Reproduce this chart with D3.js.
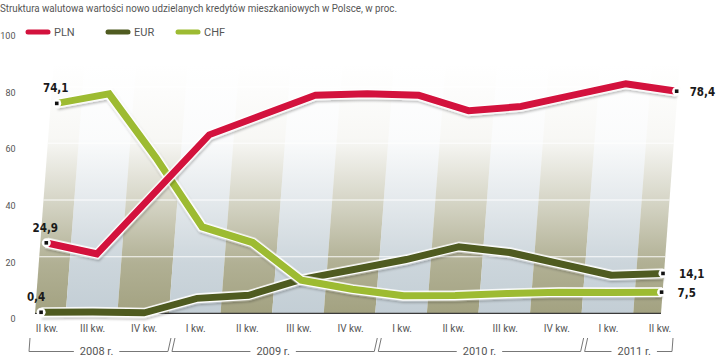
<!DOCTYPE html>
<html>
<head>
<meta charset="utf-8">
<script src="https://cdn.jsdelivr.net/npm/d3@7.9.0/dist/d3.min.js"></script>
<style>
  body { margin: 0; background: #fff; }
  svg { display: block; }
  .lbl { font-family: Roboto, "Noto Sans", sans-serif; fill: #555; }
  .val { font-family: "DejaVu Sans Condensed", "DejaVu Sans", sans-serif; font-weight: bold; fill: #1a1a1a; font-size: 11.5px; }
</style>
</head>
<body>
<svg id="chart" width="720" height="359"></svg>
<script>
// data (shares in %)
const quarters = ["II kw.", "III kw.", "IV kw.", "I kw.", "II kw.", "III kw.", "IV kw.",
                  "I kw.", "II kw.", "III kw.", "IV kw.", "I kw.", "II kw."];
const yearLabels = ["2008 r.", "2009 r.", "2010 r.", "2011 r."];
const yearQuarterCounts = [3, 4, 4, 2];
const pln = [24.9, 21, 42, 63, 70, 77, 77.5, 77, 71.5, 73, 77, 81, 78.4];
const eur = [0.4, 0.5, 0.2, 5.3, 6.4, 12, 15.5, 19, 23.5, 21.5, 17.5, 13.5, 14.1];
const chf = [74.1, 77.5, 55, 30.5, 25, 11.7, 8.5, 6.2, 6.3, 7, 7.5, 7.4, 7.5];
const yTicks = [0, 20, 40, 60, 80, 100];

const series = [
  { name: "EUR", values: eur, color: "#4f5b20" },
  { name: "CHF", values: chf, color: "#9dbb32" },
  { name: "PLN", values: pln, color: "#d3123d" }
];
const legendOrder = ["PLN", "EUR", "CHF"];

const svg = d3.select("#chart");
const x = d3.scaleLinear().domain([0, quarters.length - 1]).range([41, 660]);
const y = d3.scaleLinear().domain([0, 100]).range([313.4, 30]);
const y0 = y(0);
const k = 0.075; // slant of the chart body
const skewX = (i, v) => x(i) + k * (y0 - y(v));

// gradients for the stripes
const defs = svg.append("defs");
function stripeGrad(id, color) {
  const g = defs.append("linearGradient").attr("id", id)
    .attr("gradientUnits", "userSpaceOnUse")
    .attr("x1", 0).attr("x2", 0).attr("y1", y(88)).attr("y2", y0);
  [[0, 0], [0.3, 0.08], [0.55, 0.45], [0.8, 0.85], [1, 1]].forEach(([o, op]) =>
    g.append("stop").attr("offset", o).attr("stop-color", color).attr("stop-opacity", op));
}
stripeGrad("olive", "#a3a281");
stripeGrad("blue", "#c3ced5");
const shadow = defs.append("filter").attr("id", "sh").attr("x", "-5%").attr("y", "-20%")
  .attr("width", "110%").attr("height", "140%");
shadow.append("feDropShadow").attr("dx", 1).attr("dy", 2).attr("stdDeviation", 1.3)
  .attr("flood-color", "#000").attr("flood-opacity", 0.25);

// title
svg.append("text").attr("class", "lbl").attr("x", 0).attr("y", 12)
  .attr("font-size", 11).attr("fill", "#666")
  .attr("textLength", 397).attr("lengthAdjust", "spacingAndGlyphs")
  .text("Struktura walutowa wartości nowo udzielanych kredytów mieszkaniowych w Polsce, w proc.");

// legend
const legX = [28, 108, 178];
legendOrder.forEach((n, i) => {
  const s = series.find(d => d.name === n);
  svg.append("line").attr("x1", legX[i]).attr("x2", legX[i] + 20)
    .attr("y1", 32).attr("y2", 32)
    .attr("stroke", s.color).attr("stroke-width", 5).attr("stroke-linecap", "round");
  svg.append("text").attr("class", "lbl").attr("x", legX[i] + 26).attr("y", 36)
    .attr("font-size", 11).text(n);
});

// y tick labels
svg.append("g").selectAll("text").data(yTicks).join("text")
  .attr("class", "lbl").attr("x", 15.5).attr("y", d => y(d) + 9)
  .attr("text-anchor", "end").attr("font-size", 9).attr("fill", "#777")
  .text(d => d);

// chart body, slanted
const body = svg.append("g")
  .attr("transform", `translate(0,${y0}) skewX(${-Math.atan(k) * 180 / Math.PI}) translate(0,${-y0})`);

const step = x(1) - x(0);
const left = x(0) - 6, right = x(quarters.length - 1) + 1;
quarters.forEach((q, i) => {
  const a = i === 0 ? left : x(i) - step / 2 - 1;
  const b = i === quarters.length - 1 ? right : x(i) + step / 2 - 1;
  body.append("rect").attr("x", a).attr("width", b - a)
    .attr("y", y(88)).attr("height", y0 - y(88))
    .attr("fill", i % 2 === 0 ? "url(#olive)" : "url(#blue)");
});
body.append("g").selectAll("line").data([20, 40, 60, 80]).join("line")
  .attr("x1", left).attr("x2", right).attr("y1", d => y(d)).attr("y2", d => y(d))
  .attr("stroke", "#fff").attr("stroke-width", 1).attr("opacity", 0.9);
body.append("line").attr("x1", left).attr("x2", right).attr("y1", y0).attr("y2", y0)
  .attr("stroke", "#3a3a3a").attr("stroke-width", 1.2);

const line = d3.line().x((d, i) => x(i)).y(d => y(d));
series.forEach(s => {
  body.append("path").attr("d", line(s.values)).attr("fill", "none")
    .attr("stroke", "#fff").attr("stroke-width", 10).attr("stroke-linejoin", "miter")
    .attr("filter", "url(#sh)");
  body.append("path").attr("d", line(s.values)).attr("fill", "none")
    .attr("stroke", s.color).attr("stroke-width", 7).attr("stroke-linejoin", "miter");
});

// end markers and value labels
const fmt = v => String(v).replace(".", ",");
series.forEach(s => {
  const n = s.values.length - 1;
  [0, n].forEach(i => {
    const cx = skewX(i, s.values[i]), cy = y(s.values[i]);
    svg.append("circle").attr("cx", cx).attr("cy", cy).attr("r", 4.5).attr("fill", "#fff");
    svg.append("rect").attr("x", cx - 1.8).attr("y", cy - 1.8).attr("width", 3.6).attr("height", 3.6)
      .attr("fill", "#111");
    if (i === 0) {
      svg.append("text").attr("class", "val").attr("x", cx - (s.name === "EUR" ? 5 : 1))
        .attr("y", cy - 11).attr("text-anchor", "middle").text(fmt(s.values[i]));
    } else {
      svg.append("text").attr("class", "val").attr("x", cx + 14 + (s.name === "PLN" ? -1 : 2))
        .attr("y", cy + 4.5).text(fmt(s.values[i]));
    }
  });
});

// quarter labels
svg.append("g").selectAll("text").data(quarters).join("text")
  .attr("class", "lbl").attr("x", (d, i) => x(i) + (i === 0 ? 6 : 0)).attr("y", 332)
  .attr("text-anchor", "middle").attr("font-size", 10).attr("fill", "#5a5a5a").text(d => d);

// year brackets
const br = svg.append("g").attr("stroke", "#777").attr("stroke-width", 1).attr("fill", "none");
const by = 351.5, bt = 338;
let start = 0;
yearLabels.forEach((lab, j) => {
  const end = start + yearQuarterCounts[j] - 1;
  const a = j === 0 ? x(0) - 12 : (x(start - 1) + x(start)) / 2 + 2;
  const b = j === yearLabels.length - 1 ? x(end) + 12 : (x(end) + x(end + 1)) / 2 - 2;
  const mid = (x(start) + x(end)) / 2 + (j === 0 ? 4 : 0);
  const t = svg.append("text").attr("class", "lbl").attr("x", mid).attr("y", 355)
    .attr("text-anchor", "middle").attr("font-size", 11).text(lab);
  const w = t.node().getComputedTextLength() / 2 + 6;
  br.append("line").attr("x1", a).attr("x2", mid - w).attr("y1", by).attr("y2", by);
  br.append("line").attr("x1", mid + w).attr("x2", b).attr("y1", by).attr("y2", by);
  if (j === 0) br.append("line").attr("x1", a).attr("x2", a + 1).attr("y1", by).attr("y2", bt);
  else br.append("line").attr("x1", a).attr("x2", a + 3).attr("y1", by).attr("y2", bt);
  if (j === yearLabels.length - 1) br.append("line").attr("x1", b).attr("x2", b + 1).attr("y1", by).attr("y2", bt);
  else br.append("line").attr("x1", b).attr("x2", b + 3).attr("y1", by).attr("y2", bt);
  start = end + 1;
});
</script>
</body>
</html>
